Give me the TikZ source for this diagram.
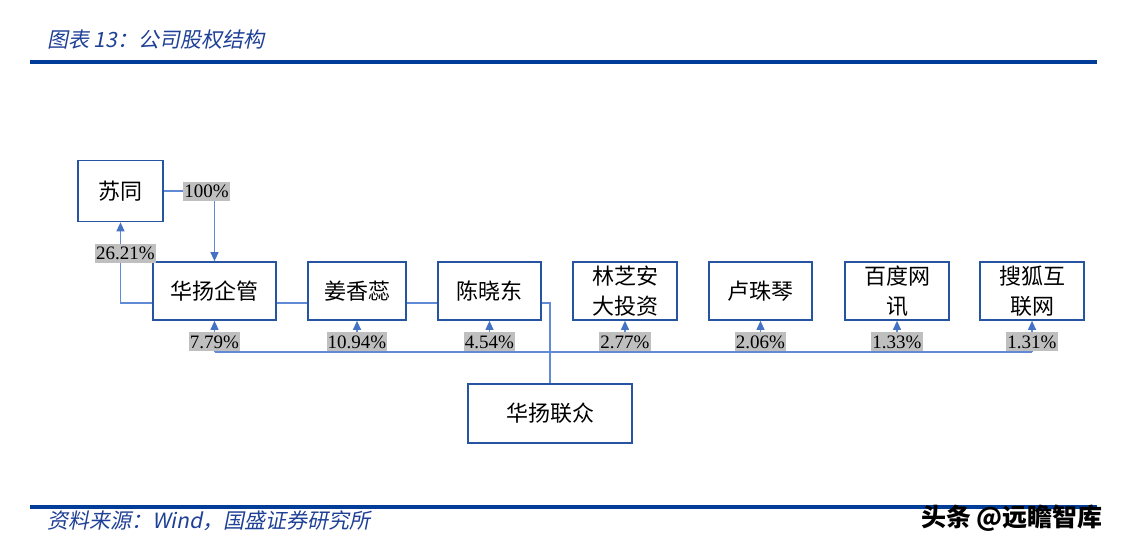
\documentclass[tikz,border=0pt]{standalone}
\usepackage{fontspec}
\newfontfamily\cjk{Noto Sans CJK SC}
\newfontfamily\cjkslant[FakeSlant=0.2]{Noto Sans CJK SC}
\newfontfamily\pctserif{Liberation Serif}
\usetikzlibrary{shapes,arrows.meta}
\definecolor{boxblue}{RGB}{38, 84, 163}
\definecolor{lineblue}{RGB}{96, 138, 214}
\definecolor{tipblue}{RGB}{68, 114, 196}
\definecolor{pctgray}{RGB}{191, 191, 191}
\definecolor{titleblue}{RGB}{30, 64, 150}
\definecolor{ruleblue}{RGB}{0, 61, 153}
\tikzstyle{block} = [rectangle, draw=boxblue, line width=1.7pt, fill=white,
    align=center, minimum height=58pt, inner sep=2pt,
    font=\cjk\fontsize{22}{30}\selectfont]
\tikzstyle{pct} = [fill=pctgray, inner xsep=1pt, inner ysep=1pt,
    minimum height=19pt, font=\pctserif\fontsize{19}{20}\selectfont]
\tikzstyle{line} = [draw=lineblue, line width=1.1pt]
\tikzstyle{arrowline} = [line, -{Triangle[length=9pt,width=8pt,color=tipblue]}]
\tikzstyle{bar} = [draw=ruleblue, line width=3.5pt]
\tikzstyle{caption} = [anchor=west, inner sep=0pt, text=titleblue,
    font=\cjkslant\fontsize{21}{24}\selectfont]

\begin{document}
\begin{tikzpicture}[x=1pt, y=1pt]
  \fill [white] (0,0) rectangle (1132,-549);
  \useasboundingbox (0,0) rectangle (1132,-549);
  % header and footer
  \node [caption] (title) at (47,-40) {图表 13：公司股权结构};
  \draw [bar] (30,-62) -- (1097,-62);
  \draw [bar] (30,-507) -- (1097,-507);
  \node [caption] (source) at (47,-521) {资料来源：Wind，国盛证券研究所};
  \node [inner sep=0pt, font=\cjk\bfseries\fontsize{25}{28}\selectfont] (watermark) at (1012,-518) {头条 @远瞻智库};
  % holders
  \node [block, minimum width=85pt, minimum height=61pt] (sutong) at (120.5,-191) {苏同};
  \node [block, minimum width=123pt] (hyqg) at (214.5,-291) {华扬企管};
  \node [block, right of=hyqg, node distance=142.5pt, minimum width=98pt] (jxr) {姜香蕊};
  \node [block, right of=jxr, node distance=132.5pt, minimum width=103pt] (cxd) {陈晓东};
  \node [block, right of=cxd, node distance=135.5pt, minimum width=104pt] (lzadtz) {林芝安\\大投资};
  \node [block, right of=lzadtz, node distance=135.5pt, minimum width=103pt] (lzq) {卢珠琴};
  \node [block, right of=lzq, node distance=136.5pt, minimum width=104pt] (bdwx) {百度网\\讯};
  \node [block, right of=bdwx, node distance=135pt, minimum width=104pt] (shhlw) {搜狐互\\联网};
  \node [block, minimum width=164pt, minimum height=59pt] (hylz) at (550,-413.5) {华扬联众};
  \coordinate (bus) at (0,-352);
  % links
  \path [arrowline] (sutong.east) -| node[pct, pos=0.5, xshift=-8pt]{100\%} (hyqg.north);
  \path [arrowline] ([yshift=-12pt]hyqg.west) -| node[pct, pos=0.81, xshift=5pt]{26.21\%} (sutong.south);
  \path [line] ([yshift=-12pt]hyqg.east) -- ([yshift=-12pt]jxr.west);
  \path [line] ([yshift=-12pt]jxr.east) -- ([yshift=-12pt]cxd.west);
  \path [line] ([yshift=-12pt]cxd.east) -| (hylz.north);
  \path [line] (hyqg.south |- bus) -- (shhlw.south |- bus);
  \path [arrowline] (hyqg.south |- bus) -- node[pct, pos=0, anchor=south]{7.79\%} (hyqg.south);
  \path [arrowline] (jxr.south |- bus) -- node[pct, pos=0, anchor=south]{10.94\%} (jxr.south);
  \path [arrowline] (cxd.south |- bus) -- node[pct, pos=0, anchor=south]{4.54\%} (cxd.south);
  \path [arrowline] (lzadtz.south |- bus) -- node[pct, pos=0, anchor=south]{2.77\%} (lzadtz.south);
  \path [arrowline] (lzq.south |- bus) -- node[pct, pos=0, anchor=south]{2.06\%} (lzq.south);
  \path [arrowline] (bdwx.south |- bus) -- node[pct, pos=0, anchor=south]{1.33\%} (bdwx.south);
  \path [arrowline] (shhlw.south |- bus) -- node[pct, pos=0, anchor=south]{1.31\%} (shhlw.south);
\end{tikzpicture}
\end{document}
